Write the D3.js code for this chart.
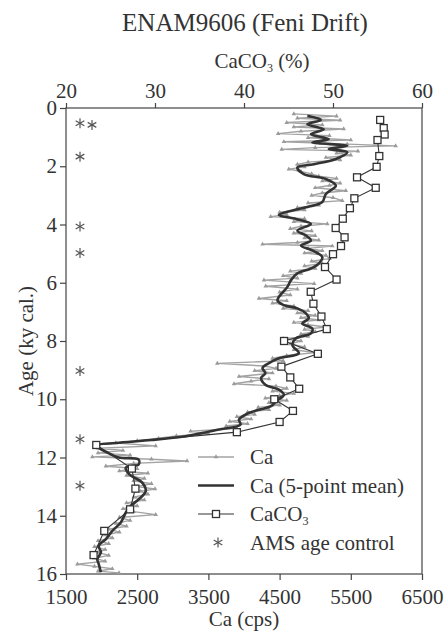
<!DOCTYPE html>
<html lang="en">
<head>
<meta charset="utf-8">
<title>ENAM9606 (Feni Drift)</title>
<script src="https://cdn.jsdelivr.net/npm/d3@7"></script>
<style>
    body { margin: 0; background: #fff; }
    text { font-family: "Liberation Serif", "Times New Roman", serif; fill: #333; }
</style>
</head>
<body>
<script>
// ---- data ----
var ageTicks = [0, 2, 4, 6, 8, 10, 12, 14, 16];
var caTicks = [1500, 2500, 3500, 4500, 5500, 6500];
var caco3Ticks = [20, 30, 40, 50, 60];

// raw Ca counts [age ky, cps]
var caRaw = [
    [0.20, 4700], [0.28, 5300], [0.35, 4750], [0.42, 5350], [0.50, 4600], [0.58, 5100],
    [0.65, 4700], [0.72, 5400], [0.80, 4800], [0.88, 4480], [0.95, 5200], [1.02, 4900],
    [1.10, 5500], [1.16, 4560], [1.24, 5450], [1.30, 6130], [1.36, 5000], [1.42, 4530],
    [1.48, 5600], [1.55, 5300], [1.62, 5500], [1.70, 5150], [1.78, 5350], [1.86, 4900],
    [1.94, 4750], [2.02, 4850], [2.10, 4630], [2.18, 4800], [2.26, 4950], [2.34, 5050],
    [2.42, 5300], [2.50, 5100], [2.58, 5350], [2.66, 5200], [2.74, 5000], [2.84, 5430],
    [2.92, 5100], [3.00, 4950], [3.08, 5250], [3.18, 5380], [3.26, 4900], [3.34, 5050],
    [3.42, 4750], [3.50, 4850], [3.58, 4500], [3.66, 4600], [3.73, 4375], [3.80, 4850],
    [3.90, 4700], [3.98, 5170], [4.06, 4800], [4.14, 4650], [4.22, 4950], [4.30, 4700],
    [4.38, 5000], [4.46, 4850], [4.54, 5050], [4.62, 4750], [4.68, 4260], [4.74, 5240],
    [4.82, 4900], [4.90, 5100], [4.98, 4850], [5.06, 5150], [5.17, 5200], [5.26, 4950],
    [5.34, 5100], [5.42, 4850], [5.51, 5000], [5.60, 4650], [5.68, 4800], [5.76, 4550],
    [5.84, 4750], [5.91, 4280], [6.03, 4985], [6.12, 4305], [6.22, 4750], [6.32, 4500],
    [6.42, 4650], [6.54, 4210], [6.62, 4600], [6.70, 4400], [6.80, 4700], [6.88, 4550],
    [6.96, 4900], [7.04, 4750], [7.12, 5000], [7.20, 4800], [7.28, 5050], [7.36, 4700],
    [7.44, 4900], [7.52, 5150], [7.60, 4850], [7.68, 5000], [7.76, 4800], [7.84, 4900],
    [7.92, 4550], [8.00, 4800], [8.10, 4650], [8.20, 4850], [8.30, 4700], [8.40, 5000],
    [8.50, 4600], [8.60, 4400], [8.68, 4550], [8.77, 3625], [8.86, 4300], [8.94, 4450],
    [9.02, 4150], [9.10, 4400], [9.22, 3930], [9.30, 4350], [9.38, 4100], [9.47, 3860],
    [9.55, 4450], [9.63, 4600], [9.72, 4400], [9.80, 4700], [9.88, 4500], [9.96, 4300],
    [10.04, 4600], [10.12, 4350], [10.20, 4500], [10.28, 4200], [10.36, 4350], [10.44, 4050],
    [10.52, 4150], [10.60, 3900], [10.68, 4100], [10.76, 3800], [10.84, 4050], [10.92, 3750],
    [11.00, 3900], [11.10, 3250], [11.18, 3500], [11.26, 3050], [11.34, 2800], [11.42, 2500],
    [11.50, 2200], [11.60, 2760], [11.68, 1950], [11.76, 2300], [11.84, 1950], [11.92, 2400],
    [11.98, 1870], [12.06, 2700], [12.12, 3200], [12.20, 2450], [12.30, 2060], [12.38, 2500],
    [12.46, 2250], [12.54, 2650], [12.62, 2350], [12.72, 2600], [12.80, 2450], [12.90, 2700],
    [13.00, 2500], [13.08, 2750], [13.16, 2550], [13.26, 2650], [13.36, 2450], [13.46, 2600],
    [13.56, 2350], [13.66, 2500], [13.76, 2300], [13.86, 2450], [13.96, 2760], [14.06, 2250],
    [14.16, 2400], [14.26, 2200], [14.36, 2350], [14.46, 2100], [14.56, 2250], [14.66, 2050],
    [14.76, 2150], [14.86, 1950], [14.96, 2100], [15.06, 1900], [15.16, 2050], [15.26, 1950],
    [15.36, 2100], [15.46, 1900], [15.56, 2050], [15.66, 1660], [15.74, 1900], [15.82, 2150],
    [15.90, 1950], [15.96, 2245]
];

// Ca 5-point mean [age ky, cps]
var caMean = [
    [0.27, 4890], [0.41, 5080], [0.56, 4890], [0.73, 5120], [0.90, 4940], [1.07, 5190],
    [1.18, 4960], [1.30, 5450], [1.41, 5190], [1.52, 5450], [1.75, 5290], [1.93, 4980],
    [2.04, 4750], [2.27, 4840], [2.44, 5150], [2.67, 5290], [2.95, 5150], [3.23, 5100],
    [3.40, 4890], [3.52, 4680], [3.67, 4490], [3.81, 4730], [3.98, 4940], [4.21, 4750],
    [4.38, 4870], [4.55, 4940], [4.72, 4800], [4.89, 4960], [5.12, 5100], [5.34, 5050],
    [5.51, 4940], [5.68, 4750], [5.91, 4660], [6.14, 4610], [6.60, 4470], [6.77, 4560],
    [6.88, 4750], [7.05, 4870], [7.22, 4910], [7.40, 4820], [7.57, 4960], [7.74, 4940],
    [7.91, 4730], [8.14, 4680], [8.42, 4770], [8.59, 4490], [8.76, 4350], [8.93, 4260],
    [9.10, 4300], [9.27, 4240], [9.50, 4300], [9.67, 4490], [9.85, 4560], [10.07, 4450],
    [10.24, 4380], [10.36, 4210], [10.53, 4020], [10.70, 3930], [10.87, 3950], [11.04, 3650],
    [11.16, 3410], [11.27, 3180], [11.40, 2700], [11.50, 2200], [11.59, 1920], [11.85, 2100],
    [12.00, 2240], [12.07, 2520], [12.24, 2520], [12.35, 2340], [12.58, 2390], [12.86, 2570],
    [13.15, 2620], [13.44, 2520], [13.66, 2410], [13.89, 2340], [14.23, 2270], [14.52, 2150],
    [14.80, 2060], [15.03, 1960], [15.26, 1990], [15.49, 1940], [15.66, 1960], [15.94, 1990]
];

// CaCO3 [age ky, %]
var caco3 = [
    [0.41, 55.3], [0.69, 55.7], [0.91, 55.8], [1.10, 55.0], [1.65, 55.2], [2.02, 54.9],
    [2.38, 52.7], [2.74, 54.8], [3.10, 52.4], [3.44, 51.9], [3.80, 51.1], [4.12, 50.3],
    [4.44, 51.3], [4.74, 50.9], [5.02, 50.0], [5.46, 49.1], [5.89, 50.4], [6.31, 47.5],
    [6.72, 47.8], [7.16, 48.7], [7.59, 49.3], [8.00, 44.5], [8.44, 48.3], [8.88, 44.2],
    [9.25, 45.2], [9.64, 46.2], [10.00, 43.4], [10.40, 45.5], [10.78, 44.0], [11.13, 39.2],
    [11.57, 23.4], [12.38, 27.4], [13.07, 27.8], [13.78, 27.2], [14.52, 24.3], [15.35, 23.1]
];

// AMS age control points (ky)
var amsAges = [0.52, 0.58, 1.67, 4.07, 4.98, 9.03, 11.37, 12.97];

var legendLabels = ["Ca", "Ca (5-point mean)", "CaCO", "AMS age control"];

// ---- layout ----
var width = 445, height = 631;
var plotLeft = 66, plotRight = 422, plotTop = 108, plotBottom = 574;

var svg = d3.select("body").append("svg")
    .attr("width", width)
    .attr("height", height);

var x = d3.scaleLinear().domain([1500, 6500]).range([plotLeft, plotRight]);
var x2 = d3.scaleLinear().domain([20, 60]).range([plotLeft, plotRight]);
var y = d3.scaleLinear().domain([0, 16]).range([plotTop, plotBottom]);

// frame
svg.append("rect")
    .attr("x", plotLeft).attr("y", plotTop)
    .attr("width", plotRight - plotLeft).attr("height", plotBottom - plotTop)
    .attr("fill", "none").attr("stroke", "#444").attr("stroke-width", 1.2);

function styleAxis(g) {
    g.select(".domain").remove();
    g.selectAll(".tick line").attr("stroke", "#444").attr("stroke-width", 1.2);
    g.selectAll(".tick text")
        .style("font-size", "21px")
        .style("font-family", '"Liberation Serif", "Times New Roman", serif')
        .attr("fill", "#333");
}

svg.append("g")
    .attr("transform", "translate(0," + plotBottom + ")")
    .call(d3.axisBottom(x).tickValues(caTicks).tickSize(6).tickPadding(9).tickFormat(d3.format("d")))
    .call(styleAxis);

svg.append("g")
    .attr("transform", "translate(0," + plotTop + ")")
    .call(d3.axisTop(x2).tickValues(caco3Ticks).tickSize(5).tickPadding(5))
    .call(styleAxis);

svg.append("g")
    .attr("transform", "translate(" + plotLeft + ",0)")
    .call(d3.axisLeft(y).tickValues(ageTicks).tickSize(6).tickPadding(3))
    .call(styleAxis);

// titles
svg.append("text")
    .attr("x", 245).attr("y", 31)
    .attr("text-anchor", "middle")
    .style("font-size", "25px")
    .text("ENAM9606 (Feni Drift)");

var t2 = svg.append("text")
    .attr("x", 262).attr("y", 68)
    .attr("text-anchor", "middle")
    .style("font-size", "21px");
t2.append("tspan").text("CaCO");
t2.append("tspan").attr("dy", 4).style("font-size", "12px").text("3");
t2.append("tspan").attr("dy", -4).text(" (%)");

svg.append("text")
    .attr("x", (plotLeft + plotRight) / 2).attr("y", 626)
    .attr("text-anchor", "middle")
    .style("font-size", "21px")
    .text("Ca (cps)");

svg.append("text")
    .attr("transform", "translate(33," + ((plotTop + plotBottom) / 2) + ")rotate(-90)")
    .attr("text-anchor", "middle")
    .style("font-size", "21px")
    .text("Age (ky cal.)");

// ---- series ----
var rawLine = d3.line()
    .x(function (d) { return x(d[1]); })
    .y(function (d) { return y(d[0]); });

var meanLine = d3.line()
    .x(function (d) { return x(d[1]); })
    .y(function (d) { return y(d[0]); })
    .curve(d3.curveCatmullRom);

var carbLine = d3.line()
    .x(function (d) { return x2(d[1]); })
    .y(function (d) { return y(d[0]); });

var tri = d3.symbol().type(d3.symbolTriangle).size(9);

svg.append("path")
    .datum(caRaw)
    .attr("d", rawLine)
    .attr("fill", "none")
    .attr("stroke", "#a3a3a3")
    .attr("stroke-width", 1.4);

svg.append("g").selectAll("path")
    .data(caRaw)
    .enter()
    .append("path")
    .attr("d", tri)
    .attr("transform", function (d) { return "translate(" + x(d[1]) + "," + y(d[0]) + ")"; })
    .attr("fill", "#9a9a9a");

svg.append("path")
    .datum(caMean)
    .attr("d", meanLine)
    .attr("fill", "none")
    .attr("stroke", "#333")
    .attr("stroke-width", 2.6)
    .attr("stroke-linejoin", "round");

svg.append("path")
    .datum(caco3)
    .attr("d", carbLine)
    .attr("fill", "none")
    .attr("stroke", "#333")
    .attr("stroke-width", 1.1);

var sq = 7;
svg.append("g").selectAll("rect")
    .data(caco3)
    .enter()
    .append("rect")
    .attr("x", function (d) { return x2(d[1]) - sq / 2; })
    .attr("y", function (d) { return y(d[0]) - sq / 2; })
    .attr("width", sq).attr("height", sq)
    .attr("fill", "#fff")
    .attr("stroke", "#333")
    .attr("stroke-width", 1.3);

// AMS asterisks
function asterisk(g, cx, cy) {
    var r = 5;
    for (var k = 0; k < 3; k++) {
        var a = Math.PI / 2 + k * Math.PI / 3;
        g.append("line")
            .attr("x1", cx - r * Math.cos(a)).attr("y1", cy - r * Math.sin(a))
            .attr("x2", cx + r * Math.cos(a)).attr("y2", cy + r * Math.sin(a))
            .attr("stroke", "#555").attr("stroke-width", 1.2);
    }
}
var amsG = svg.append("g");
amsAges.forEach(function (a, i) {
    var shift = (i > 0 && a - amsAges[i - 1] < 0.2) ? 12 : 0;
    asterisk(amsG, plotLeft + 14 + shift, y(a));
});

// ---- legend ----
var lg = svg.append("g");
var lx0 = 198, lx1 = 234, ltx = 250, ly0 = 457, ldy = 28.5;

lg.append("line")
    .attr("x1", lx0).attr("x2", lx1).attr("y1", ly0).attr("y2", ly0)
    .attr("stroke", "#a3a3a3").attr("stroke-width", 1.4);
lg.append("path").attr("d", tri)
    .attr("transform", "translate(" + ((lx0 + lx1) / 2) + "," + ly0 + ")")
    .attr("fill", "#9a9a9a");

lg.append("line")
    .attr("x1", lx0).attr("x2", lx1).attr("y1", ly0 + ldy).attr("y2", ly0 + ldy)
    .attr("stroke", "#333").attr("stroke-width", 2.6);

lg.append("line")
    .attr("x1", lx0).attr("x2", lx1).attr("y1", ly0 + 2 * ldy).attr("y2", ly0 + 2 * ldy)
    .attr("stroke", "#333").attr("stroke-width", 1.1);
lg.append("rect")
    .attr("x", (lx0 + lx1) / 2 - sq / 2).attr("y", ly0 + 2 * ldy - sq / 2)
    .attr("width", sq).attr("height", sq)
    .attr("fill", "#fff").attr("stroke", "#333").attr("stroke-width", 1.3);

asterisk(lg, (lx0 + lx1) / 2 + 2, ly0 + 3 * ldy);

legendLabels.forEach(function (s, i) {
    var t = lg.append("text")
        .attr("x", ltx).attr("y", ly0 + i * ldy + 7)
        .style("font-size", "21px")
        .text(s);
    if (i == 2) {
        t.append("tspan").attr("dy", 4).style("font-size", "12px").text("3");
    }
});
</script>
</body>
</html>
